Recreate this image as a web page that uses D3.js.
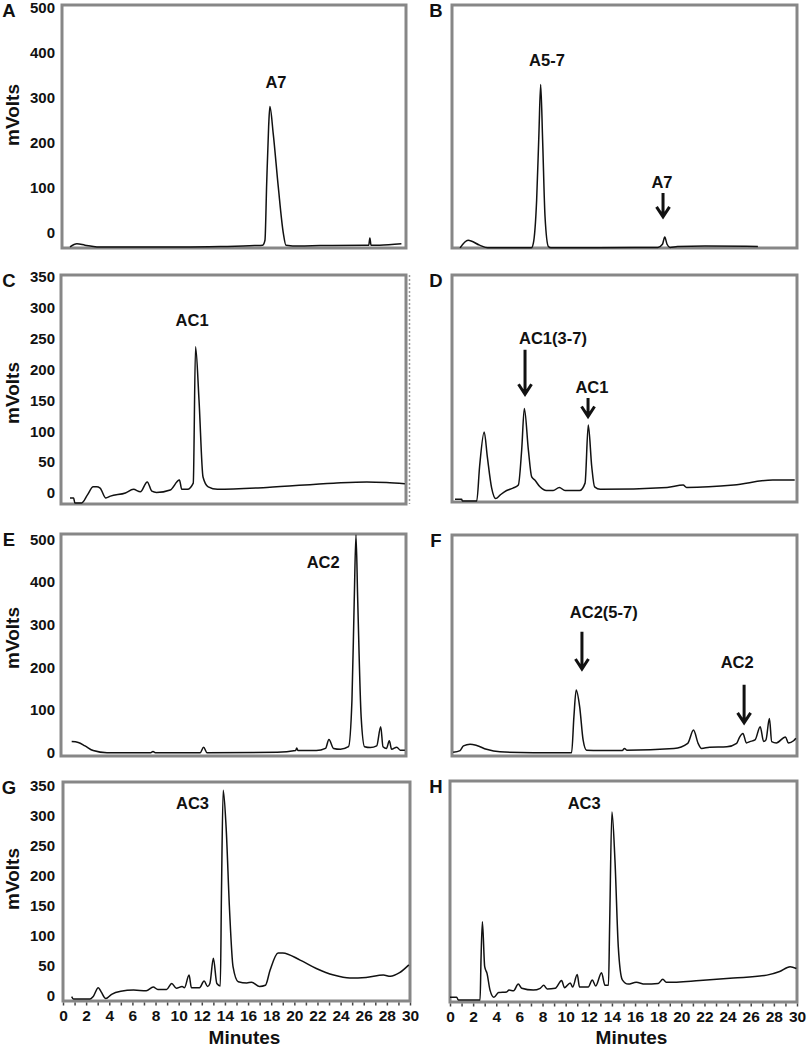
<!DOCTYPE html>
<html>
<head>
<meta charset="utf-8">
<script src="https://cdn.jsdelivr.net/npm/d3@7"></script>
<style>
  body { margin: 0; background: #fff; overflow: hidden; }
  svg { display: block; }
  svg text { font-family: 'Liberation Sans', Arial, sans-serif; font-weight: bold; fill: #111; }
</style>
</head>
<body>
<svg id="chart" width="807" height="1050"></svg>
<script>
/* global d3 */
// chromatogram traces (minutes, mVolts)
const timeA = [0.7, 1.3, 2.0, 3.05, 10.5, 13.8, 16.8, 17.5, 17.7, 17.85, 18.02, 18.13, 18.42, 18.86, 19.3, 19.53, 20.7, 22.5, 26.4, 26.75, 26.85, 26.95, 27.7, 29.6]
const mvA = [-31, -24, -27, -31, -31, -30, -28, -27, -16, 110, 236, 281, 221, 103, 0, -27, -29, -28, -27, -27, -11, -27, -27, -24]

const timeB = [0.7, 1.4, 2.4, 3.1, 6.9, 7.07, 7.36, 7.56, 7.71, 7.88, 8.09, 8.38, 8.6, 16.6, 17.9, 18.3, 18.5, 18.7, 18.96, 19.6, 22.0, 26.6]
const mvB = [-33, -16, -27, -33, -33, -23, 73, 222, 330, 207, 36, -30, -33, -32, -32, -25, -9, -25, -32, -30, -29, -30]

const timeC = [0.78, 1.1, 1.2, 1.8, 2.3, 2.8, 3.1, 3.4, 3.9, 4.3, 5.6, 6.3, 6.9, 7.5, 7.9, 8.3, 9.5, 10.3, 10.5, 11.0, 11.5, 11.7, 12.0, 12.35, 12.8, 13.6, 17.9, 23.7, 26.6, 28.3, 29.9]
const mvC = [-8, -8, -16, -16, -3, 10, 10, 8, -8, -5, 0, 6, 2, 18, 3, 1, 5, 21, 6, 6, 16, 237, 151, 26, 10, 6, 9, 16, 18, 17, 15]

const timeD = [0.26, 0.84, 0.9, 2.15, 2.4, 2.8, 3.07, 3.45, 3.8, 4.2, 4.75, 5.3, 5.77, 6.06, 6.29, 6.64, 6.93, 7.2, 7.65, 8.2, 8.8, 9.33, 9.83, 11.1, 11.57, 11.85, 12.15, 12.4, 12.9, 18.7, 20.1, 20.4, 24.5, 27.9, 29.8]
const mvD = [-10, -10, -13, -13, 43, 99, 59, 8, -9, -3, 4, 8, 13, 70, 137, 70, 26, 21, 10, 4, 4, 9, 4, 4, 16, 110, 43, 10, 6, 9, 13, 9, 13, 21, 21]

const timeE = [0.93, 1.5, 2.09, 2.8, 4.0, 6.3, 7.8, 8.0, 8.2, 12.1, 12.4, 12.7, 18.8, 20.4, 20.5, 20.6, 22.2, 23.0, 23.3, 23.7, 24.3, 25.0, 25.3, 25.5, 25.65, 25.8, 26.1, 26.4, 26.9, 27.45, 27.8, 28.0, 28.3, 28.55, 28.75, 29.2, 29.5, 29.9]
const mvE = [26, 24, 16, 5, 0, 0, 0, 3, 0, 0, 13, 0, 1, 5, 11, 5, 5, 10, 31, 10, 8, 14, 123, 358, 510, 358, 84, 14, 12, 16, 61, 14, 10, 28, 8, 13, 6, 6]

const timeF = [0.1, 0.7, 1.0, 1.57, 2.15, 3.0, 4.17, 7.07, 10.4, 10.6, 10.8, 11.1, 11.4, 11.7, 12.9, 14.8, 15.0, 15.2, 19.3, 20.5, 21.0, 21.4, 21.7, 22.4, 23.9, 24.75, 25.0, 25.3, 25.6, 25.9, 26.35, 26.8, 27.1, 27.3, 27.6, 27.8, 28.2, 29.0, 29.25, 29.7, 29.9]
const mvF = [1, 5, 16, 20, 17, 8, 2, 0, 0, 84, 147, 108, 30, 6, 5, 5, 10, 6, 10, 22, 53, 22, 10, 13, 14, 22, 36, 45, 23, 26, 30, 61, 26, 30, 80, 26, 23, 37, 23, 28, 34]

const timeG = [0.75, 0.9, 2.33, 2.6, 3.05, 3.3, 3.7, 4.2, 5.0, 6.1, 7.2, 7.8, 8.2, 8.96, 9.4, 9.8, 10.3, 10.5, 10.9, 11.1, 11.8, 12.2, 12.5, 12.7, 13.0, 13.3, 13.6, 13.7, 13.85, 14.1, 14.4, 14.7, 15.15, 15.9, 16.3, 17.0, 17.5, 17.9, 18.6, 19.0, 20.5, 21.9, 23.4, 24.8, 26.2, 27.7, 28.3, 29.1, 29.9]
const mvG = [-2, -6, -6, -2, 13, 6, -5, 2, 7, 9, 8, 14, 10, 10, 20, 12, 15, 13, 34, 13, 13, 24, 15, 20, 62, 20, 16, 170, 342, 281, 142, 48, 23, 21, 22, 15, 17, 42, 71, 71, 59, 45, 34, 29, 30, 34, 32, 38, 51]

const timeH = [0, 0.58, 0.72, 2.6, 2.68, 2.8, 3.0, 3.2, 3.46, 3.8, 4.2, 4.9, 5.1, 5.5, 5.9, 6.2, 7.2, 7.8, 8.1, 8.4, 9.1, 9.65, 9.9, 10.4, 10.6, 11.0, 11.2, 11.95, 12.3, 12.6, 13.1, 13.4, 13.7, 13.8, 14.0, 14.26, 14.55, 14.9, 15.4, 16.1, 16.85, 18.0, 18.4, 18.7, 21.6, 24.5, 27.4, 28.5, 29.4, 29.95]
const mvH = [-3, -3, -7.5, -7.5, 59, 123, 48, 37, 9, -3, 5, 6, 9, 8, 19, 12, 9, 12, 17, 11, 12, 25, 13, 21, 14, 35, 14, 14, 26, 16, 38, 17, 17, 115, 306, 226, 81, 26, 19, 22, 19, 20, 27, 22, 25, 29, 34, 40, 48, 45]

// axis ticks
const yTicksA = [0, 100, 200, 300, 400, 500]
const yTicksC = [0, 50, 100, 150, 200, 250, 300, 350]
const yTicksE = [0, 100, 200, 300, 400, 500]
const yTicksG = [0, 50, 100, 150, 200, 250, 300, 350]
const xTicks = [0, 2, 4, 6, 8, 10, 12, 14, 16, 18, 20, 22, 24, 26, 28, 30]

// peak labels [text, minutes, mVolts] and arrows [minutes, from mV, to mV]
const labelsA = [['A7', 18.66, 336]]
const labelsB = [['A5-7', 8.26, 384], ['A7', 18.26, 113]]
const arrowsB = [[18.35, 89, 36]]
const labelsC = [['AC1', 11.4, 280]]
const labelsD = [['AC1(3-7)', 8.78, 251], ['AC1', 12.17, 172]]
const arrowsD = [[6.35, 232, 160], [11.83, 154, 124]]
const labelsE = [['AC2', 22.8, 447]]
const labelsF = [['AC2(5-7)', 13.2, 330], ['AC2', 24.8, 212]]
const arrowsF = [[11.3, 283, 196], [25.4, 159, 70]]
const labelsG = [['AC3', 11.2, 321]]
const labelsH = [['AC3', 11.6, 321]]

const panels = [
  { letter: 'A', time: timeA, mv: mvA, frame: [62, 5, 406, 248], yDomain: [-33.3, 506.7], yTicks: yTicksA, yLabelY: 115, labels: labelsA, arrows: [] },
  { letter: 'B', time: timeB, mv: mvB, frame: [452, 5, 797, 248], yDomain: [-33.3, 506.7], labels: labelsB, arrows: arrowsB },
  { letter: 'C', time: timeC, mv: mvC, frame: [61, 275, 406, 504], yDomain: [-17.8, 353.3], yTicks: yTicksC, yLabelY: 393, labels: labelsC, arrows: [], dashedRight: true },
  { letter: 'D', time: timeD, mv: mvD, frame: [452, 275, 797, 502], yDomain: [-14.6, 353.3], labels: labelsD, arrows: arrowsD },
  { letter: 'E', time: timeE, mv: mvE, frame: [61, 534, 406, 756], yDomain: [-7.7, 512.2], yTicks: yTicksE, yLabelY: 638, labels: labelsE, arrows: [] },
  { letter: 'F', time: timeF, mv: mvF, frame: [452, 535, 797, 756], yDomain: [-7.7, 509.8], labels: labelsF, arrows: arrowsF },
  { letter: 'G', time: timeG, mv: mvG, frame: [63, 782, 410, 1001], yDomain: [-9.2, 355.8], yTicks: yTicksG, yLabelY: 879, labels: labelsG, arrows: [], xAxis: true },
  { letter: 'H', time: timeH, mv: mvH, frame: [450, 781, 797, 1002], yDomain: [-10.8, 357.5], labels: labelsH, arrows: [], xAxis: true }
]

const svg = d3.select('#chart')

panels.forEach(p => {
  const [x0, y0, x1, y1] = p.frame
  const x = d3.scaleLinear().domain([0, 30]).range([x0, x1])
  const y = d3.scaleLinear().domain(p.yDomain).range([y1, y0])
  const g = svg.append('g').attr('class', 'panel-' + p.letter)

  // frame
  g.append('rect')
    .attr('x', x0).attr('y', y0)
    .attr('width', x1 - x0).attr('height', y1 - y0)
    .attr('fill', 'none')
    .attr('stroke', '#878787')
    .attr('stroke-width', 3)
  if (p.dashedRight) {
    g.append('line')
      .attr('x1', x1 + 3.5).attr('x2', x1 + 3.5)
      .attr('y1', y0).attr('y2', y1)
      .attr('stroke', '#9a9a9a')
      .attr('stroke-width', 1.5)
      .attr('stroke-dasharray', '2,2')
  }

  // trace
  const pts = p.time.map((t, i) => [t, p.mv[i]])
  const line = d3.line()
    .x(d => x(d[0]))
    .y(d => y(d[1]))
    .curve(d3.curveMonotoneX)
  g.append('path')
    .datum(pts)
    .attr('d', line)
    .attr('fill', 'none')
    .attr('stroke', '#111')
    .attr('stroke-width', 1.5)
    .attr('stroke-linejoin', 'round')

  // y axis
  if (p.yTicks) {
    const ya = g.append('g')
      .attr('transform', `translate(${x0},0)`)
      .call(d3.axisLeft(y).tickValues(p.yTicks).tickSize(0).tickPadding(x0 - 55))
    ya.select('.domain').remove()
    ya.selectAll('text').style('font-size', '15px').attr('fill', '#111')
    g.append('text')
      .attr('transform', `translate(19,${p.yLabelY}) rotate(-90)`)
      .attr('text-anchor', 'middle')
      .style('font-size', '19px')
      .text('mVolts')
  }

  // x axis
  if (p.xAxis) {
    const minor = g.append('g')
      .attr('transform', `translate(0,${y1 + 1.5})`)
      .call(d3.axisBottom(x).tickValues(d3.range(0, 31)).tickSize(3).tickFormat(''))
    minor.select('.domain').remove()
    minor.selectAll('line').attr('stroke', '#444').attr('stroke-width', 1.5)
    const xa = g.append('g')
      .attr('transform', `translate(0,${y1})`)
      .call(d3.axisBottom(x).tickValues(xTicks).tickSize(0).tickPadding(9))
    xa.select('.domain').remove()
    xa.selectAll('text').style('font-size', '15.5px').attr('fill', '#111')
    g.append('text')
      .attr('x', (x0 + x1) / 2 + 8)
      .attr('y', 1044)
      .attr('text-anchor', 'middle')
      .style('font-size', '19px')
      .text('Minutes')
  }

  // panel letter
  g.append('text')
    .attr('x', x0 < 200 ? 9 : 436)
    .attr('y', y0 + 12)
    .attr('text-anchor', 'middle')
    .style('font-size', '18.5px')
    .text(p.letter)

  // peak labels
  g.selectAll('.peak-label').data(p.labels).enter()
    .append('text')
    .attr('class', 'peak-label')
    .attr('x', d => x(d[1]))
    .attr('y', d => y(d[2]))
    .attr('dy', '0.36em')
    .attr('text-anchor', 'middle')
    .style('font-size', '16.5px')
    .text(d => d[0])

  // arrows
  g.selectAll('.arrow').data(p.arrows).enter()
    .append('path')
    .attr('class', 'arrow')
    .attr('d', d => {
      const ax = x(d[0])
      const ya0 = y(d[1])
      const ya1 = y(d[2])
      return `M${ax},${ya0}L${ax},${ya1 - 1}M${ax - 6.5},${ya1 - 10}L${ax},${ya1}L${ax + 6.5},${ya1 - 10}`
    })
    .attr('fill', 'none')
    .attr('stroke', '#111')
    .attr('stroke-width', 3)
})
</script>
</body>
</html>
